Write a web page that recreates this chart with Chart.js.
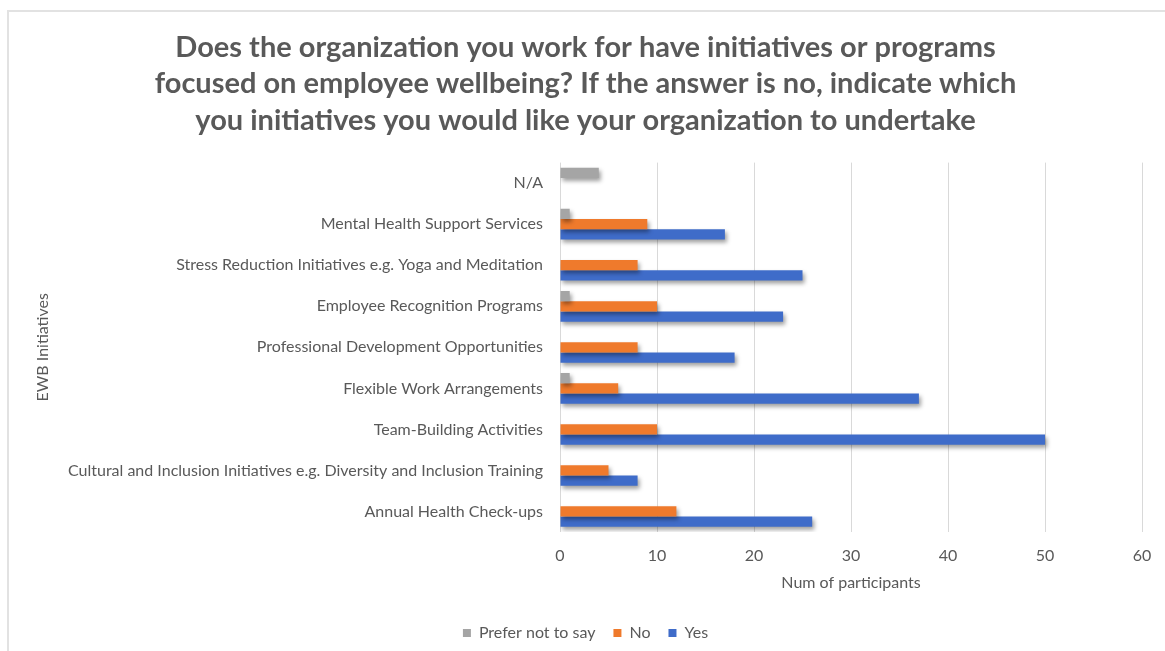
<!DOCTYPE html>
<html>
<head>
<meta charset="utf-8">
<script src="https://cdn.jsdelivr.net/npm/chart.js@4.4.1/dist/chart.umd.min.js"></script>
<style>
  html, body { margin: 0; padding: 0; background: #fff; overflow: hidden; }
  #frame {
    position: absolute; left: 7px; top: 10px;
    width: 1172px; height: 650px;
    border-left: 2px solid #e2e2e2; border-top: 2px solid #e2e2e2;
  }
  #frame canvas { display: block; }
</style>
</head>
<body>
<div id="frame"><canvas id="ewb" width="1172" height="650"></canvas></div>
<script>
const categories = [
  'N/A',
  'Mental Health Support Services',
  'Stress Reduction Initiatives e.g. Yoga and Meditation',
  'Employee Recognition Programs',
  'Professional Development Opportunities',
  'Flexible Work Arrangements',
  'Team-Building Activities',
  'Cultural and Inclusion Initiatives e.g. Diversity and Inclusion Training',
  'Annual Health Check-ups'
];
const preferNotToSay = [4, 1, 0, 1, 0, 1, 0, 0, 0];
const answeredNo = [0, 9, 8, 10, 8, 6, 10, 5, 12];
const answeredYes = [0, 17, 25, 23, 18, 37, 50, 8, 26];
const xTicks = [0, 10, 20, 30, 40, 50, 60];

const titleLines = [
  'Does the organization you work for have initiatives or programs',
  'focused on employee wellbeing? If the answer is no, indicate which',
  'you initiatives you would like your organization to undertake'
];

const grey = '#595959';
const family = 'Lato, "Open Sans", sans-serif';
const txt = { family, size: 16 };

// soft drop shadow under every bar
const barShadow = {
  id: 'barShadow',
  beforeDatasetDraw(chart) {
    const c = chart.ctx;
    c.save();
    c.shadowColor = 'rgba(0,0,0,0.38)';
    c.shadowBlur = 4;
    c.shadowOffsetX = 2;
    c.shadowOffsetY = 3;
  },
  afterDatasetDraw(chart) { chart.ctx.restore(); }
};

new Chart(document.getElementById('ewb'), {
  type: 'bar',
  data: {
    labels: categories,
    datasets: [
      { label: 'Prefer not to say', data: preferNotToSay, backgroundColor: '#a5a5a5' },
      { label: 'No', data: answeredNo, backgroundColor: '#ef7a2c' },
      { label: 'Yes', data: answeredYes, backgroundColor: '#3f6cc9' }
    ]
  },
  options: {
    indexAxis: 'y',
    responsive: false,
    animation: false,
    barPercentage: 1,
    categoryPercentage: 0.75,
    layout: { padding: { left: 20, right: 39, top: 0, bottom: 11 } },
    plugins: {
      tooltip: { enabled: false },
      title: {
        display: true,
        text: titleLines,
        color: grey,
        font: { family, size: 29, weight: 'bold', lineHeight: 1.26 },
        padding: { top: 17, bottom: 24 }
      },
      legend: {
        position: 'bottom',
        labels: {
          color: grey,
          font: txt,
          boxWidth: 8, boxHeight: 8,
          padding: 18
        }
      }
    },
    scales: {
      x: {
        min: 0, max: 60,
        afterBuildTicks: (s) => { s.ticks = xTicks.map(v => ({ value: v })); },
        afterFit: (s) => { s.height = 75; },
        grid: { color: '#d9d9d9', drawTicks: false },
        border: { display: false },
        ticks: { color: grey, font: txt, padding: 14 },
        title: {
          display: true, text: 'Num of participants', color: grey,
          font: txt, padding: { top: 7, bottom: 15 }
        }
      },
      y: {
        grid: { display: false },
        border: { display: false },
        afterFit: (s) => { s.width = 531; },
        ticks: { color: grey, font: txt, padding: 9 },
        title: {
          display: true, text: 'EWB Initiatives', color: grey,
          font: txt, padding: 4
        }
      }
    }
  },
  plugins: [barShadow]
});
</script>
</body>
</html>
